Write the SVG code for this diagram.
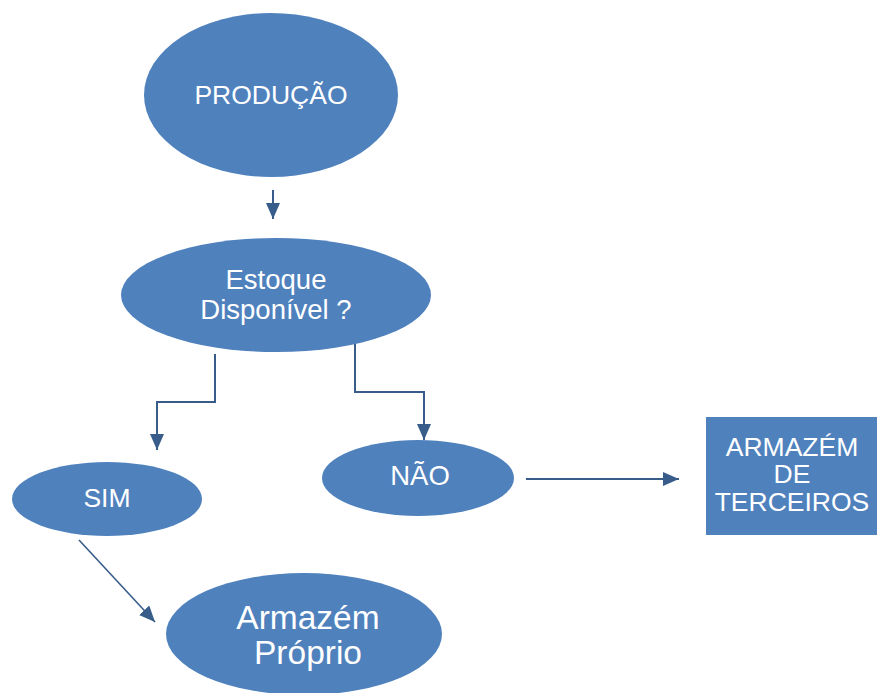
<svg xmlns="http://www.w3.org/2000/svg" width="877" height="693" viewBox="0 0 877 693">
<defs>
<style>
.n{fill:#4F81BD;}
.t{fill:#FFFFFF;font-family:"Liberation Sans",Arial,sans-serif;text-anchor:middle;font-size:26.5px;}
.b{font-size:33.5px;}
.c{fill:none;stroke:#385D8A;stroke-width:2;}
</style>
<marker id="ah" markerWidth="16" markerHeight="14" refX="16" refY="7" orient="auto" markerUnits="userSpaceOnUse" viewBox="0 0 16 14">
<path d="M0,0 L16,7 L0,14 Z" fill="#385D8A"/>
</marker>
</defs>
<rect width="877" height="693" fill="#FFFFFF"/>
<g id="connectors">
<path class="c" d="M273,190 V219" marker-end="url(#ah)"/>
<path class="c" d="M215,354 V402 H157 V450" marker-end="url(#ah)"/>
<path class="c" d="M355,343 V392 H424 V440" marker-end="url(#ah)"/>
<path class="c" d="M526,479 H679" marker-end="url(#ah)"/>
<path class="c" d="M79,540 L155,622" marker-end="url(#ah)" style="stroke-width:1.6"/>
</g>
<g id="producao">
<ellipse class="n" cx="271" cy="95" rx="127" ry="82"/>
<text class="t" x="271" y="104">PRODUÇÃO</text>
</g>
<g id="estoque">
<ellipse class="n" cx="276" cy="295" rx="155" ry="57"/>
<text class="t" x="276" y="289" style="font-size:27.5px">Estoque</text>
<text class="t" x="276" y="319" style="font-size:27.5px">Disponível ?</text>
</g>
<g id="sim">
<ellipse class="n" cx="107" cy="499" rx="95" ry="37"/>
<text class="t" x="107" y="507">SIM</text>
</g>
<g id="nao">
<ellipse class="n" cx="418" cy="478" rx="96" ry="38"/>
<text class="t" x="420" y="485" style="font-size:27.5px">NÃO</text>
</g>
<g id="terceiros">
<rect class="n" x="706" y="417" width="171" height="118"/>
<text class="t" x="792" y="456">ARMAZÉM</text>
<text class="t" x="792" y="483">DE</text>
<text class="t" x="792" y="511">TERCEIROS</text>
</g>
<g id="proprio">
<ellipse class="n" cx="304" cy="634" rx="138" ry="61"/>
<text class="t b" x="308" y="629">Armazém</text>
<text class="t b" x="308" y="664">Próprio</text>
</g>
</svg>
